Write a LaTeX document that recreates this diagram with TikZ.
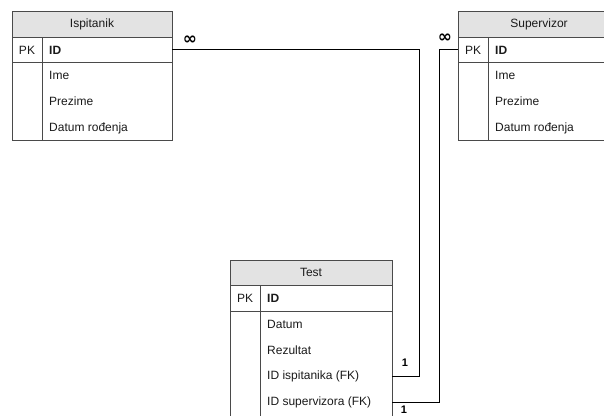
\documentclass[tikz,border=0pt]{standalone}
\usepackage{fontspec}
\setmainfont{Liberation Sans}
\newfontfamily\symfont{DejaVu Sans}
\definecolor{linec}{HTML}{4A4A4A}
\definecolor{hdrfill}{HTML}{E3E3E3}
\definecolor{txtc}{HTML}{1A1A1A}
\begin{document}
\begin{tikzpicture}[x=1pt,y=-1pt,
  box/.style={draw=linec, line width=0.8pt, inner sep=0pt, outer sep=0pt},
  hdr/.style={box, fill=hdrfill},
  fld/.style={font=\fontsize{12}{14}\selectfont, text=txtc, inner sep=0pt, anchor=west},
  pk/.style={font=\fontsize{12}{14}\selectfont, text=txtc, inner sep=0pt},
  key/.style={fld, font=\fontsize{12}{14}\selectfont\bfseries},
  title/.style={font=\fontsize{12}{14}\selectfont, text=txtc, inner sep=0pt},
  conn/.style={draw=black, line width=0.9pt},
  card/.style={font=\fontsize{11}{13}\selectfont\bfseries, inner sep=0pt},
  inf/.style={font=\symfont\bfseries\fontsize{17}{19}\selectfont, inner sep=0pt}]
\useasboundingbox (0,0) rectangle (604,415);
\clip (0,0) rectangle (604,415);
% Ispitanik
\node[hdr, minimum width=160pt, minimum height=26pt] (isp-h) at (92,24) {};
\node[box, minimum width=160pt, minimum height=25pt] (isp-pk) at (92,49.5) {};
\node[box, minimum width=160pt, minimum height=78pt] (isp-b) at (92,101) {};
\draw[draw=linec, line width=0.8pt] (42,37) -- (42,140);
\node[title] (isp-t) at (92,24) {Ispitanik};
\node[pk] (isp-pkl) at (27,50) {PK};
\node[key] (isp-id) at (49,50) {ID};
\node[fld] (isp-ime) at (49,75) {Ime};
\node[fld] (isp-prez) at (49,101) {Prezime};
\node[fld] (isp-dat) at (49,128) {Datum rođenja};
% Supervizor
\node[hdr, minimum width=162pt, minimum height=26pt] (sup-h) at (539,24) {};
\node[box, minimum width=162pt, minimum height=25pt] (sup-pk) at (539,49.5) {};
\node[box, minimum width=162pt, minimum height=78pt] (sup-b) at (539,101) {};
\draw[draw=linec, line width=0.8pt] (488,37) -- (488,140);
\node[title] (sup-t) at (539,24) {Supervizor};
\node[pk] (sup-pkl) at (473,50) {PK};
\node[key] (sup-id) at (495,50) {ID};
\node[fld] (sup-ime) at (495,75) {Ime};
\node[fld] (sup-prez) at (495,101) {Prezime};
\node[fld] (sup-dat) at (495,128) {Datum rođenja};
% Test
\node[hdr, minimum width=162pt, minimum height=25pt] (tst-h) at (311,272.5) {};
\node[box, minimum width=162pt, minimum height=26pt] (tst-pk) at (311,298) {};
\node[box, minimum width=162pt, minimum height=119pt] (tst-b) at (311,370.5) {};
\draw[draw=linec, line width=0.8pt] (260,285) -- (260,430);
\node[title] (tst-t) at (311,272.5) {Test};
\node[pk] (tst-pkl) at (245,298) {PK};
\node[key] (tst-id) at (267,298) {ID};
\node[fld] (tst-dat) at (267,324) {Datum};
\node[fld] (tst-rez) at (267,350) {Rezultat};
\node[fld] (tst-fki) at (267,376) {ID ispitanika (FK)};
\node[fld] (tst-fks) at (267,402) {ID supervizora (FK)};
% connectors
\coordinate (j1) at (419,376);
\coordinate (j2) at (439,402);
\draw[conn] (isp-pk.east) -| (j1) -- (tst-b.east |- j1);
\draw[conn] (sup-pk.west) -| (j2) -- (tst-b.east |- j2);
\node[inf] (c1) at (190,40) {∞};
\node[inf] (c2) at (445,38) {∞};
\node[card] (c3) at (405,363) {1};
\node[card] (c4) at (404,410) {1};
\end{tikzpicture}
\end{document}
